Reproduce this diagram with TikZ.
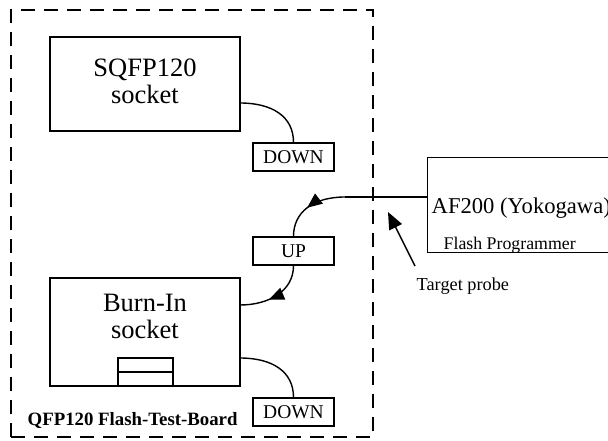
\documentclass[tikz,border=0pt]{standalone}
\usepackage{fontspec}
\setmainfont{Liberation Serif}
\usetikzlibrary{arrows.meta,decorations.markings}
\begin{document}
\begin{tikzpicture}[x=1pt,y=-1pt,
  box/.style={draw,line width=1.4pt,inner sep=0pt,rectangle},
  tag/.style={box,minimum width=81pt,minimum height=28pt,font=\fontsize{19.5}{21}\selectfont},
  wire/.style={line width=1.4pt},
  midarrow/.style={postaction={decorate},decoration={markings,mark=at position #1 with {\arrow{Triangle[length=15pt,width=12.5pt]}}}},
  lbl/.style={inner sep=0pt,anchor=base west},
  big/.style={inner sep=0pt,align=center,anchor=base,font=\fontsize{26.5}{26.6}\selectfont}
]
\useasboundingbox (0,0) rectangle (608,441);
\clip (0,0) rectangle (608,441);

% dashed board frame
\node[draw,line width=2pt,dash pattern=on 14pt off 9pt,minimum width=362pt,minimum height=427pt,inner sep=0pt] (board) at (192,223.5) {};

% sockets
\node[box,minimum width=190pt,minimum height=94pt] (sqfp) at (145,84) {};
\node[big] (sqfptxt) at (145,103.3) {SQFP120\\socket};
\node[box,minimum width=190pt,minimum height=108pt] (burn) at (145,332) {};
\node[big] (burntxt) at (145,338) {Burn-In\\socket};
\node[box,minimum width=55pt,minimum height=14pt] (slotA) at (145.5,365) {};
\node[box,minimum width=55pt,minimum height=14pt] (slotB) at (145.5,379) {};

% tags
\node[tag] (down1) at (293.5,157) {DOWN};
\node[tag] (up) at (293.5,251) {UP};
\node[tag] (down2) at (293.5,412) {DOWN};

% programmer
\node[box,minimum width=200pt,minimum height=95pt,anchor=north west] (af) at (427,157) {};
\node[lbl,font=\fontsize{22.6}{24}\selectfont] (aftxt) at (431.5,214) {AF200 (Yokogawa)};
\node[lbl,font=\fontsize{17.8}{19}\selectfont] (fptxt) at (443.5,249.3) {Flash Programmer};

% labels
\node[lbl,font=\fontsize{18.3}{20}\selectfont] (tp) at (416.5,290) {Target probe};
\node[lbl,font=\fontsize{18.8}{20}\selectfont\bfseries] (boardtxt) at (27.5,425) {QFP120 Flash-Test-Board};

% connection points
\coordinate (sqout) at (240,103);
\coordinate (burnin) at (240,305);
\coordinate (burnout) at (240,358);
\coordinate (afin) at (427,197);
\coordinate (bend) at (345,197);
\coordinate (probetail) at (415,266);
\coordinate (probetip) at (388,212);

% wires
\draw[wire] (sqout) .. controls +(32,0) and +(0,-26) .. (down1.north);
\draw[wire] (burnout) .. controls +(32,0) and +(0,-26) .. (down2.north);
\draw[wire] (afin) -- (bend);
\draw[wire,midarrow=0.55] (bend) .. controls +(-32,0) and +(0,-24) .. (up.north);
\draw[wire,midarrow=0.6] (up.south) .. controls +(0,26) and +(28,0) .. (burnin);
\draw[wire,-{Triangle[length=17pt,width=14pt]}] (probetail) -- (probetip);
\end{tikzpicture}
\end{document}
